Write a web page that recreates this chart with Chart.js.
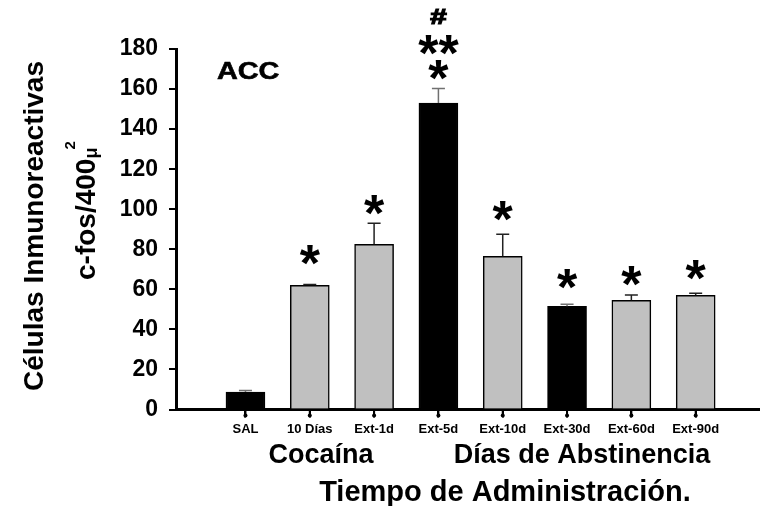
<!DOCTYPE html>
<html>
<head>
<meta charset="utf-8">
<script src="https://cdn.jsdelivr.net/npm/chart.js@4/dist/chart.umd.min.js"></script>
<style>
  html, body { margin: 0; padding: 0; background: #fff; }
  #wrap { width: 760px; height: 506px; }
</style>
</head>
<body>
<div id="wrap"><canvas id="c" width="760" height="506"></canvas></div>
<script>
// c-fos immunoreactive cells in ACC (mean and SEM per group)
const categories = ['SAL', '10 Días', 'Ext-1d', 'Ext-5d', 'Ext-10d', 'Ext-30d', 'Ext-60d', 'Ext-90d'];
const means = [8.7, 62, 82.5, 153, 76.5, 51.5, 54.5, 57];
const sem = [0.8, 0.4, 10.5, 7.3, 11, 1, 2.7, 1];
const yTicks = [0, 20, 40, 60, 80, 100, 120, 140, 160, 180];
// significance marks above each bar, and the level (in axis units) where each is centred
const marks = [[], ['*'], ['*'], ['*', '**', '#'], ['*'], ['*'], ['*'], ['*']];
const markLevels = [[], [77.2], [102.2], [169.4, 182.2, 196], [99.2], [65.2], [66.5], [69.7]];
// groups drawn in black
const darkBars = [0, 3, 5];

const FONT = '"Liberation Sans", Arial, Helvetica, sans-serif';
Chart.defaults.font.family = FONT;
Chart.defaults.color = '#000';

const fills = categories.map((_, i) => darkBars.includes(i) ? '#000000' : '#c0c0c0');

function drawCentered(ctx, text, cx, cy, font, sx, stroke) {
  ctx.font = font;
  const m = ctx.measureText(text);
  const baseline = cy + (m.actualBoundingBoxAscent - m.actualBoundingBoxDescent) / 2;
  ctx.save();
  ctx.translate(cx, baseline);
  ctx.scale(sx || 1, 1);
  ctx.textAlign = 'center';
  ctx.textBaseline = 'alphabetic';
  ctx.fillText(text, 0, 0);
  if (stroke) {
    ctx.lineWidth = stroke;
    ctx.strokeStyle = '#000';
    ctx.strokeText(text, 0, 0);
  }
  ctx.restore();
}

const errorBars = {
  id: 'errorBars',
  afterDatasetsDraw(chart) {
    const { ctx, scales: { y } } = chart;
    const meta = chart.getDatasetMeta(0);
    ctx.save();
    meta.data.forEach((bar, i) => {
      const base = y.getPixelForValue(means[i]);
      const top = y.getPixelForValue(means[i] + sem[i]);
      ctx.strokeStyle = darkBars.includes(i) ? '#707070' : '#222222';
      ctx.lineWidth = 1.5;
      ctx.beginPath();
      ctx.moveTo(bar.x, base);
      ctx.lineTo(bar.x, top);
      ctx.moveTo(bar.x - 6.5, top);
      ctx.lineTo(bar.x + 6.5, top);
      ctx.stroke();
    });
    ctx.restore();
  }
};

// short pin-shaped tick marks under the category axis
const categoryPins = {
  id: 'categoryPins',
  afterDraw(chart) {
    const { ctx, scales: { x } } = chart;
    const top = x.top + 1.5;
    ctx.save();
    ctx.strokeStyle = '#000';
    ctx.fillStyle = '#000';
    ctx.lineWidth = 2;
    x.ticks.forEach((_, i) => {
      const px = x.getPixelForTick(i);
      ctx.beginPath();
      ctx.moveTo(px, top);
      ctx.lineTo(px, top + 4);
      ctx.stroke();
      ctx.beginPath();
      ctx.arc(px, top + 4.5, 2, 0, Math.PI * 2);
      ctx.fill();
    });
    ctx.restore();
  }
};

const textLayer = {
  id: 'textLayer',
  afterDraw(chart) {
    const { ctx, scales: { x, y } } = chart;
    ctx.save();
    ctx.fillStyle = '#000';

    marks.forEach((list, i) => list.forEach((t, k) => {
      const isHash = t === '#';
      drawCentered(ctx, t, x.getPixelForValue(i + 1), y.getPixelForValue(markLevels[i][k]),
        `bold ${isHash ? 22 : 52}px ${FONT}`, isHash ? 1.35 : 1, isHash ? 1.2 : 0);
    }));

    // panel label
    ctx.save();
    ctx.font = `bold 24px ${FONT}`;
    ctx.textAlign = 'left';
    ctx.textBaseline = 'alphabetic';
    ctx.translate(217, 79);
    ctx.scale(1.2, 1);
    ctx.fillText('ACC', 0, 0);
    ctx.lineWidth = 0.6;
    ctx.strokeStyle = '#000';
    ctx.strokeText('ACC', 0, 0);
    ctx.restore();

    // group captions and x title
    ctx.textAlign = 'center';
    ctx.textBaseline = 'alphabetic';
    ctx.font = `bold 27px ${FONT}`;
    ctx.fillText('Cocaína', 321, 463);
    ctx.fillText('Días de Abstinencia', 582, 463);
    ctx.font = `bold 29px ${FONT}`;
    ctx.fillText('Tiempo de Administración.', 505, 501);

    // y title, two rotated lines
    ctx.save();
    ctx.font = `bold 28px ${FONT}`;
    ctx.translate(43, 226);
    ctx.rotate(-Math.PI / 2);
    ctx.textAlign = 'center';
    ctx.fillText('Células Inmunoreactivas', 0, 0);
    ctx.restore();

    ctx.save();
    ctx.translate(95, 280);
    ctx.rotate(-Math.PI / 2);
    ctx.textAlign = 'left';
    ctx.font = `bold 28px ${FONT}`;
    const main = 'c-fos/400';
    ctx.fillText(main, 0, 0);
    let u = ctx.measureText(main).width;
    ctx.font = `bold 18px ${FONT}`;
    ctx.fillText('μ', u, 2);
    u += ctx.measureText('μ').width;
    ctx.font = `bold 15px ${FONT}`;
    ctx.fillText('2', u - 2, -20);
    ctx.restore();

    ctx.restore();
  }
};

new Chart(document.getElementById('c'), {
  type: 'bar',
  data: {
    datasets: [{
      data: means.map((v, i) => ({ x: i + 1, y: v })),
      backgroundColor: fills,
      borderColor: '#000',
      borderWidth: 1.5,
      borderSkipped: 'bottom',
      barThickness: 39
    }]
  },
  options: {
    responsive: false,
    animation: false,
    events: [],
    layout: { padding: { top: 49, right: 0, bottom: 0, left: 0 } },
    plugins: { legend: { display: false }, tooltip: { enabled: false } },
    scales: {
      x: {
        type: 'linear',
        offset: false,
        min: -0.08,
        max: 9,
        afterBuildTicks: s => { s.ticks = categories.map((_, i) => ({ value: i + 1 })); },
        afterFit: s => { s.height = 96.5; },
        grid: { offset: false, drawOnChartArea: false, drawTicks: true, tickLength: 8, lineWidth: 2, color: '#000' },
        border: { display: true, width: 3, color: '#000' },
        ticks: {
          autoSkip: false, maxRotation: 0, padding: 4,
          font: { size: 13, weight: 'bold' },
          callback: v => categories[v - 1] ?? ''
        }
      },
      y: {
        min: 0,
        max: 180,
        afterBuildTicks: s => { s.ticks = yTicks.map(v => ({ value: v })); },
        afterFit: s => { s.width = 176; },
        grid: { drawOnChartArea: false, tickLength: 7, lineWidth: 2, color: '#000' },
        border: { display: true, width: 3, color: '#000' },
        ticks: { padding: 11, font: { size: 23, weight: 'bold' }, callback: v => String(v) }
      }
    }
  },
  plugins: [errorBars, categoryPins, textLayer]
});
</script>
</body>
</html>
